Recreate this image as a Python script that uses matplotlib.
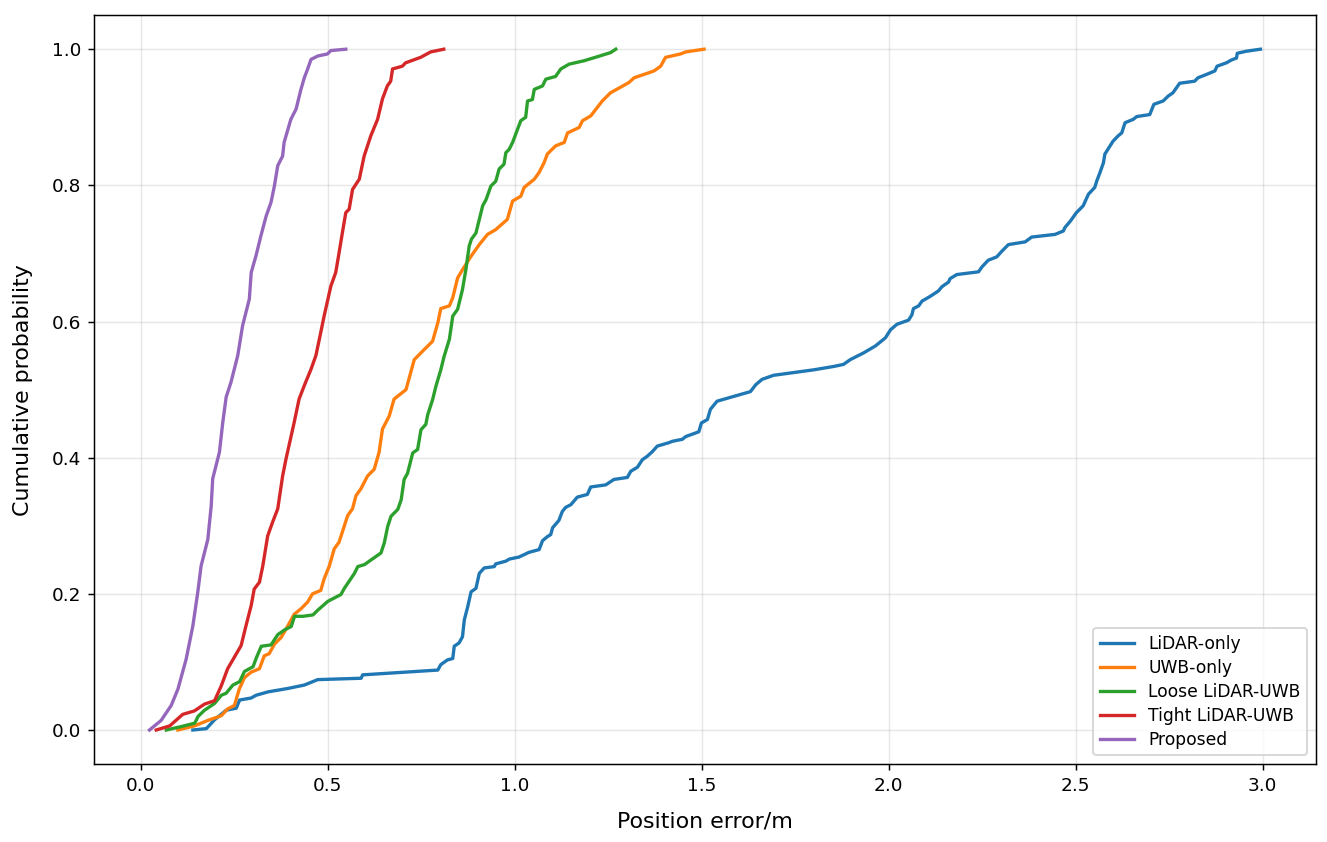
import matplotlib
matplotlib.use('Agg')
import matplotlib.pyplot as plt

# error values (m) and cumulative probability
lidar_err = [0.139, 0.175, 0.197, 0.228, 0.255, 0.264, 0.295, 0.308, 0.340, 0.393,
             0.437, 0.473, 0.589, 0.593, 0.794, 0.802, 0.820, 0.834, 0.838, 0.851,
             0.860, 0.865, 0.874, 0.883, 0.896, 0.905, 0.918, 0.945, 0.949, 0.976,
             0.985, 1.011, 1.038, 1.065, 1.074, 1.087, 1.096, 1.101, 1.118, 1.127,
             1.136, 1.150, 1.167, 1.194, 1.203, 1.243, 1.265, 1.301, 1.310, 1.328,
             1.341, 1.354, 1.368, 1.381, 1.412, 1.421, 1.448, 1.457, 1.492, 1.499,
             1.515, 1.523, 1.541, 1.586, 1.630, 1.644, 1.661, 1.692, 1.746, 1.799,
             1.853, 1.879, 1.897, 1.933, 1.964, 1.991, 2.005, 2.022, 2.053, 2.062,
             2.066, 2.080, 2.089, 2.111, 2.133, 2.142, 2.160, 2.164, 2.182, 2.240,
             2.249, 2.266, 2.289, 2.302, 2.320, 2.365, 2.382, 2.445, 2.467, 2.471,
             2.485, 2.502, 2.520, 2.534, 2.551, 2.556, 2.565, 2.574, 2.578, 2.600,
             2.614, 2.623, 2.632, 2.654, 2.663, 2.698, 2.709, 2.734, 2.747, 2.760,
             2.778, 2.818, 2.827, 2.850, 2.872, 2.878, 2.903, 2.916, 2.930, 2.932,
             2.956, 2.994]
lidar_cdf = [0.0, 0.002, 0.015, 0.029, 0.032, 0.044, 0.047, 0.051, 0.056, 0.061,
             0.066, 0.074, 0.076, 0.081, 0.088, 0.096, 0.103, 0.105, 0.123, 0.128,
             0.137, 0.162, 0.181, 0.203, 0.208, 0.230, 0.238, 0.240, 0.244, 0.248,
             0.251, 0.254, 0.261, 0.265, 0.278, 0.284, 0.287, 0.297, 0.308, 0.321,
             0.327, 0.331, 0.342, 0.346, 0.357, 0.360, 0.368, 0.371, 0.380, 0.386,
             0.397, 0.402, 0.409, 0.417, 0.422, 0.424, 0.427, 0.431, 0.438, 0.451,
             0.456, 0.471, 0.483, 0.490, 0.497, 0.507, 0.515, 0.521, 0.525, 0.529,
             0.534, 0.537, 0.544, 0.554, 0.564, 0.576, 0.588, 0.596, 0.602, 0.610,
             0.619, 0.623, 0.630, 0.637, 0.645, 0.651, 0.658, 0.663, 0.669, 0.673,
             0.680, 0.690, 0.695, 0.703, 0.713, 0.717, 0.724, 0.728, 0.733, 0.738,
             0.747, 0.760, 0.770, 0.787, 0.797, 0.806, 0.819, 0.833, 0.846, 0.865,
             0.873, 0.877, 0.892, 0.897, 0.901, 0.904, 0.919, 0.924, 0.931, 0.936,
             0.950, 0.953, 0.958, 0.963, 0.968, 0.975, 0.980, 0.984, 0.987, 0.994,
             0.997, 1.0]

uwb_err = [0.099, 0.143, 0.179, 0.215, 0.232, 0.250, 0.263, 0.277, 0.295, 0.317,
           0.330, 0.343, 0.357, 0.375, 0.388, 0.410, 0.428, 0.446, 0.459, 0.481,
           0.490, 0.504, 0.517, 0.530, 0.553, 0.566, 0.575, 0.588, 0.606, 0.624,
           0.637, 0.646, 0.664, 0.677, 0.709, 0.731, 0.758, 0.780, 0.794, 0.802,
           0.825, 0.834, 0.847, 0.860, 0.883, 0.905, 0.927, 0.949, 0.980, 0.994,
           1.016, 1.025, 1.052, 1.065, 1.078, 1.087, 1.109, 1.132, 1.141, 1.172,
           1.181, 1.203, 1.234, 1.256, 1.305, 1.319, 1.372, 1.390, 1.403, 1.443,
           1.457, 1.506]
uwb_cdf = [0.0, 0.006, 0.014, 0.021, 0.031, 0.036, 0.060, 0.077, 0.085, 0.090,
           0.109, 0.112, 0.126, 0.136, 0.148, 0.170, 0.178, 0.188, 0.200, 0.205,
           0.222, 0.241, 0.266, 0.276, 0.315, 0.325, 0.344, 0.354, 0.373, 0.383,
           0.408, 0.442, 0.461, 0.486, 0.500, 0.544, 0.559, 0.571, 0.598, 0.619,
           0.623, 0.635, 0.664, 0.676, 0.696, 0.713, 0.728, 0.735, 0.750, 0.777,
           0.784, 0.797, 0.809, 0.819, 0.833, 0.846, 0.858, 0.863, 0.877, 0.885,
           0.895, 0.902, 0.924, 0.936, 0.951, 0.958, 0.968, 0.975, 0.988, 0.993,
           0.996, 1.0]

loose_err = [0.068, 0.108, 0.144, 0.153, 0.170, 0.197, 0.215, 0.228, 0.246, 0.264,
             0.277, 0.300, 0.308, 0.322, 0.348, 0.366, 0.384, 0.402, 0.411, 0.433,
             0.460, 0.473, 0.500, 0.535, 0.544, 0.571, 0.580, 0.598, 0.616, 0.642,
             0.651, 0.660, 0.669, 0.687, 0.696, 0.704, 0.713, 0.727, 0.740, 0.749,
             0.762, 0.767, 0.780, 0.789, 0.802, 0.811, 0.825, 0.834, 0.847, 0.860,
             0.869, 0.878, 0.884, 0.896, 0.905, 0.914, 0.923, 0.936, 0.949, 0.958,
             0.971, 0.976, 0.985, 0.994, 1.007, 1.016, 1.029, 1.034, 1.047, 1.052,
             1.074, 1.083, 1.109, 1.123, 1.145, 1.185, 1.221, 1.256, 1.270]
loose_cdf = [0.0, 0.005, 0.010, 0.020, 0.029, 0.039, 0.051, 0.054, 0.066, 0.071,
             0.086, 0.093, 0.105, 0.123, 0.125, 0.140, 0.147, 0.152, 0.167, 0.167,
             0.169, 0.176, 0.189, 0.199, 0.208, 0.230, 0.240, 0.243, 0.250, 0.260,
             0.275, 0.299, 0.314, 0.324, 0.338, 0.368, 0.377, 0.407, 0.412, 0.441,
             0.449, 0.463, 0.485, 0.505, 0.529, 0.549, 0.574, 0.608, 0.618, 0.647,
             0.676, 0.711, 0.721, 0.730, 0.750, 0.770, 0.779, 0.799, 0.806, 0.824,
             0.831, 0.848, 0.853, 0.863, 0.882, 0.895, 0.900, 0.924, 0.926, 0.941,
             0.946, 0.956, 0.960, 0.971, 0.978, 0.983, 0.989, 0.995, 1.0]

tight_err = [0.041, 0.077, 0.112, 0.143, 0.170, 0.197, 0.215, 0.232, 0.250, 0.268,
             0.281, 0.295, 0.303, 0.317, 0.326, 0.339, 0.352, 0.366, 0.379, 0.388,
             0.410, 0.423, 0.437, 0.455, 0.468, 0.481, 0.490, 0.508, 0.521, 0.530,
             0.539, 0.548, 0.557, 0.566, 0.584, 0.597, 0.615, 0.633, 0.646, 0.659,
             0.668, 0.673, 0.699, 0.708, 0.748, 0.775, 0.810]
tight_cdf = [0.0, 0.006, 0.023, 0.028, 0.038, 0.043, 0.065, 0.090, 0.107, 0.124,
             0.153, 0.183, 0.207, 0.217, 0.241, 0.285, 0.305, 0.325, 0.373, 0.398,
             0.452, 0.486, 0.506, 0.530, 0.550, 0.584, 0.608, 0.652, 0.672, 0.701,
             0.731, 0.760, 0.765, 0.794, 0.809, 0.843, 0.873, 0.897, 0.927, 0.946,
             0.953, 0.971, 0.975, 0.980, 0.988, 0.996, 1.0]

prop_err = [0.023, 0.054, 0.081, 0.099, 0.121, 0.139, 0.152, 0.161, 0.179, 0.188,
            0.192, 0.210, 0.219, 0.228, 0.241, 0.259, 0.272, 0.290, 0.295, 0.308,
            0.321, 0.335, 0.348, 0.357, 0.366, 0.379, 0.383, 0.401, 0.415, 0.428,
            0.437, 0.446, 0.455, 0.473, 0.499, 0.508, 0.548]
prop_cdf = [0.0, 0.014, 0.036, 0.060, 0.104, 0.153, 0.202, 0.241, 0.280, 0.329,
            0.369, 0.408, 0.452, 0.489, 0.511, 0.550, 0.594, 0.633, 0.672, 0.697,
            0.726, 0.755, 0.775, 0.799, 0.829, 0.843, 0.863, 0.897, 0.912, 0.941,
            0.958, 0.971, 0.985, 0.990, 0.993, 0.998, 1.0]

series = [
    ('LiDAR-only', lidar_err, lidar_cdf),
    ('UWB-only', uwb_err, uwb_cdf),
    ('Loose LiDAR-UWB', loose_err, loose_cdf),
    ('Tight LiDAR-UWB', tight_err, tight_cdf),
    ('Proposed', prop_err, prop_cdf),
]

fig = plt.figure(figsize=(1327 / 133, 842 / 133), dpi=133)
ax = fig.add_axes([0.0708, 0.0926, 0.9209, 0.8894])

for name, xs, ys in series:
    ax.plot(xs, ys, linewidth=1.8, label=name)

ax.grid(True, alpha=0.3)
ax.tick_params(labelsize=10)
ax.set_xlabel('Position error/m', fontsize=12, labelpad=9)
ax.set_ylabel('Cumulative probability', fontsize=12, labelpad=10)
ax.legend(loc='lower right', fontsize=9.3, labelspacing=0.35)

fig.savefig('out.png', dpi=133)
